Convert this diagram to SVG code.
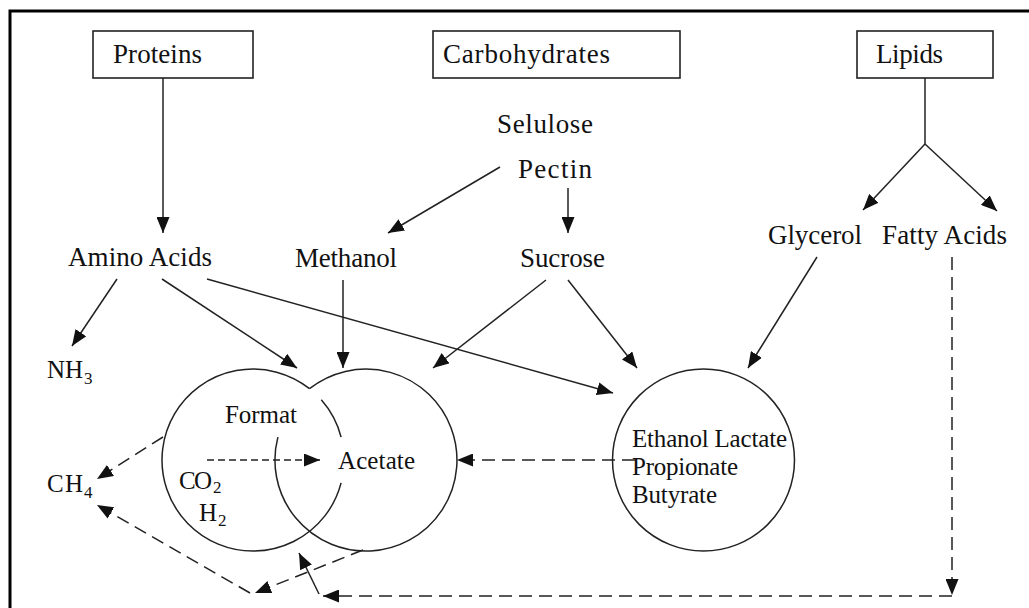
<svg xmlns="http://www.w3.org/2000/svg" width="1029" height="608" viewBox="0 0 1029 608">
<style>
  .frame { fill: none; stroke: #000; stroke-width: 3; }
  .box { fill: #fff; stroke: #222; stroke-width: 1.6; }
  .t { font-family: "Liberation Serif", "Times New Roman", serif; fill: #111; }
  .big { font-size: 27px; }
  .mid { font-size: 25px; }
  .sub { font-size: 17px; }
  .ln { fill: none; stroke: #222; stroke-width: 1.5; }
  .dash { fill: none; stroke: #222; stroke-width: 1.5; stroke-dasharray: 13 7; }
  .dash2 { fill: none; stroke: #222; stroke-width: 1.5; stroke-dasharray: 7 4; }
  .circ { fill: none; stroke: #222; stroke-width: 1.5; }
</style>
<defs>
  <marker id="ah" markerUnits="userSpaceOnUse" markerWidth="16" markerHeight="13" refX="16" refY="6.5" orient="auto">
    <path d="M0,0 L16,6.5 L0,13 z" fill="#111"/>
  </marker>
</defs>
<rect x="0" y="0" width="1029" height="608" fill="#fff"/>
<path class="frame" d="M10,608 L10,11 L1029,11"/>

<g id="proteins">
  <rect class="box" x="93" y="31" width="160" height="47"/>
  <text class="t big" x="113" y="63" textLength="89">Proteins</text>
</g>
<g id="carbohydrates">
  <rect class="box" x="433" y="31" width="247" height="47"/>
  <text class="t big" x="443" y="63" textLength="167">Carbohydrates</text>
</g>
<g id="lipids">
  <rect class="box" x="857" y="31" width="136" height="47"/>
  <text class="t big" x="876" y="63" textLength="67">Lipids</text>
</g>
<g id="selulose"><text class="t big" x="497" y="133" textLength="96">Selulose</text></g>
<g id="pectin"><text class="t big" x="518" y="178" textLength="74">Pectin</text></g>
<g id="amino-acids"><text class="t big" x="68" y="266" textLength="144">Amino Acids</text></g>
<g id="methanol"><text class="t big" x="295" y="267" textLength="102">Methanol</text></g>
<g id="sucrose"><text class="t big" x="520" y="267" textLength="85">Sucrose</text></g>
<g id="glycerol"><text class="t big" x="768" y="244" textLength="94">Glycerol</text></g>
<g id="fatty-acids"><text class="t big" x="882" y="244" textLength="125">Fatty Acids</text></g>
<g id="nh3">
  <text class="t mid" x="47" y="378" textLength="36">NH</text>
  <text class="t sub" x="84" y="384">3</text>
</g>
<g id="ch4">
  <text class="t mid" x="47" y="492" textLength="36">CH</text>
  <text class="t sub" x="84" y="498">4</text>
</g>

<g id="circle-format">
  <path class="circ" d="M321.3,399.8 A91,91 0 0 1 341.1,437.1 M341.1,482.9 A91,91 0 1 1 309.5,388.7"/>
  <text class="t mid" x="225" y="423" textLength="72">Format</text>
  <text class="t mid" x="179" y="489" textLength="33">CO</text>
  <text class="t sub" x="213" y="493">2</text>
  <text class="t mid" x="199" y="521">H</text>
  <text class="t sub" x="218" y="526">2</text>
</g>
<g id="circle-acetate">
  <path class="circ" d="M309.5,388.7 A91,91 0 1 1 277.9,437.1"/>
  <text class="t mid" x="338" y="469" textLength="77">Acetate</text>
</g>
<g id="circle-products">
  <circle class="circ" cx="703.5" cy="460" r="91"/>
  <text class="t mid" x="632" y="447" textLength="155">Ethanol Lactate</text>
  <text class="t mid" x="632" y="475" textLength="106">Propionate</text>
  <text class="t mid" x="632" y="503" textLength="85">Butyrate</text>
</g>

<g id="connectors">
  <path class="ln" d="M163,78 L163,233" marker-end="url(#ah)"/>
  <path class="ln" d="M925,78 L925,144"/>
  <path class="ln" d="M925,144 L863,210" marker-end="url(#ah)"/>
  <path class="ln" d="M925,144 L997,211" marker-end="url(#ah)"/>
  <path class="ln" d="M500,167 L388,233" marker-end="url(#ah)"/>
  <path class="ln" d="M568,188 L568,233" marker-end="url(#ah)"/>
  <path class="ln" d="M117,279 L72,346" marker-end="url(#ah)"/>
  <path class="ln" d="M162,279 L297,368" marker-end="url(#ah)"/>
  <path class="ln" d="M207,279 L613,393" marker-end="url(#ah)"/>
  <path class="ln" d="M343,280 L343,368" marker-end="url(#ah)"/>
  <path class="ln" d="M546,280 L433,368" marker-end="url(#ah)"/>
  <path class="ln" d="M568,280 L637,368" marker-end="url(#ah)"/>
  <path class="ln" d="M817,257 L748,368" marker-end="url(#ah)"/>
  <path class="dash" d="M952,257 L952,595" marker-end="url(#ah)"/>
  <path class="dash" d="M952,596 L323,596" marker-end="url(#ah)"/>
  <path class="ln" d="M319,594 L299,553" marker-end="url(#ah)"/>
  <path class="dash" d="M635,460 L457,460" marker-end="url(#ah)"/>
  <path class="dash2" d="M207,460 L320,460" marker-end="url(#ah)"/>
  <path class="dash" d="M163,437 L97,479" marker-end="url(#ah)"/>
  <path class="dash" d="M363,550 L255,593" marker-end="url(#ah)"/>
  <path class="dash" d="M250,593 L97,505" marker-end="url(#ah)"/>
</g>
</svg>
